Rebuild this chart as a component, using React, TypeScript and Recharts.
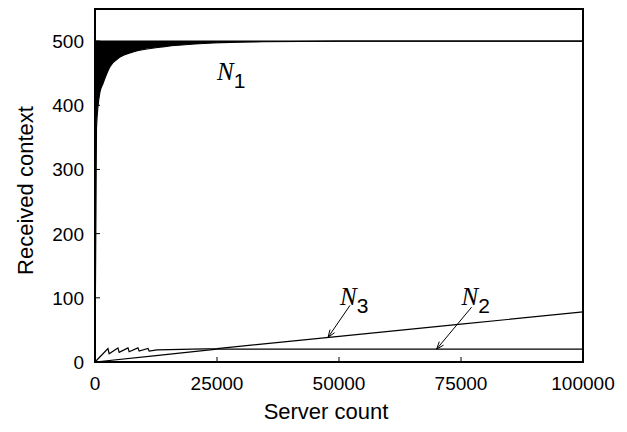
import { Area, ComposedChart, Line, ReferenceArea, ReferenceDot, XAxis, YAxis } from 'recharts';

// Server count ticks and value ticks
const xTicks = [0, 25000, 50000, 75000, 100000];
const yTicks = [0, 100, 200, 300, 400, 500];

// N1: dense oscillation drawn as a filled band between a rising floor and the 500 cap
const n1X = [0, 300, 1000, 1640, 3070, 5120, 7790, 13900, 24200, 34400, 50000, 100000];
const n1Low = [5, 365, 420, 434, 460, 475, 483, 491, 497, 499, 500, 500];
const n1Cap = 500;

// N2: rising, then flat at 20
const n2X = [0, 12500, 25000, 100000];
const n2Y = [0, 10, 20, 20];

// N3: saw-tooth start, then linear growth
const n3X = [0, 2660, 2900, 4700, 4950, 6760, 7000, 8800, 9050, 10860, 11100, 12700, 25000, 50000, 75000, 100000];
const n3Y = [0, 21, 13, 22, 15, 22, 16, 22, 17, 21, 17, 19, 20.8, 40, 59, 78];

const n1Data = n1X.map((x, i) => ({ x, band: [n1Low[i], n1Cap] }));
const n2Data = n2X.map((x, i) => ({ x, v: n2Y[i] }));
const n3Data = n3X.map((x, i) => ({ x, v: n3Y[i] }));

const SANS = '"Liberation Sans", Arial, Helvetica, sans-serif';
const SERIF = '"Liberation Serif", "Times New Roman", serif';

function XTick({ x, y, payload }: any) {
  return (
    <g>
      <line x1={x} y1={y} x2={x} y2={y - 5} stroke="#000" strokeWidth={1} />
      <text x={x} y={y + 28} textAnchor="middle" fontFamily={SANS} fontSize={19} fill="#000">
        {payload.value}
      </text>
    </g>
  );
}

function YTick({ x, y, payload }: any) {
  return (
    <g>
      <line x1={x} y1={y} x2={x + 5} y2={y} stroke="#000" strokeWidth={1} />
      <text x={x - 11} y={y + 7} textAnchor="end" fontFamily={SANS} fontSize={19} fill="#000">
        {payload.value}
      </text>
    </g>
  );
}

function TopTick({ x, y }: any) {
  return <line x1={x} y1={y} x2={x} y2={y + 5} stroke="#000" strokeWidth={1} />;
}

function RightTick({ x, y }: any) {
  return <line x1={x} y1={y} x2={x - 5} y2={y} stroke="#000" strokeWidth={1} />;
}

function Name({ x, y, sub }: { x: number; y: number; sub: string }) {
  return (
    <text x={x} y={y} fill="#000">
      <tspan fontFamily={SERIF} fontStyle="italic" fontSize={25}>N</tspan>
      <tspan fontFamily={SANS} fontSize={21} dy={8}>{sub}</tspan>
    </text>
  );
}

function Pointer({ cx, cy, dx, dy, nx, ny, sub }: any) {
  const len = Math.hypot(dx, dy);
  const ux = dx / len;
  const uy = dy / len;
  const head = 8;
  const spread = 0.35;
  const ax1 = cx + head * (ux * Math.cos(spread) - uy * Math.sin(spread));
  const ay1 = cy + head * (uy * Math.cos(spread) + ux * Math.sin(spread));
  const ax2 = cx + head * (ux * Math.cos(-spread) - uy * Math.sin(-spread));
  const ay2 = cy + head * (uy * Math.cos(-spread) + ux * Math.sin(-spread));
  return (
    <g>
      <line x1={cx} y1={cy} x2={cx + dx} y2={cy + dy} stroke="#000" strokeWidth={1} />
      <polyline points={`${ax1},${ay1} ${cx},${cy} ${ax2},${ay2}`} fill="none" stroke="#000" strokeWidth={1} />
      <Name x={cx + nx} y={cy + ny} sub={sub} />
    </g>
  );
}

export default function App() {
  return (
    <div style={{ position: 'absolute', left: 0, top: 0, background: '#fff' }}>
      <ComposedChart width={627} height={432} margin={{ top: 9, right: 44, bottom: 0, left: 0 }}>
        <XAxis
          xAxisId={0}
          type="number"
          dataKey="x"
          domain={[0, 100000]}
          ticks={xTicks}
          height={70}
          axisLine={false}
          tickLine={false}
          tickSize={0}
          tickMargin={0}
          tick={<XTick />}
          interval={0}
          label={{
            content: ({ viewBox }: any) => (
              <text
                x={viewBox.x + viewBox.width / 2 - 13}
                y={viewBox.y + 57}
                textAnchor="middle"
                fontFamily={SANS}
                fontSize={22}
                fill="#000"
              >
                Server count
              </text>
            ),
          }}
        />
        <XAxis
          xAxisId="top"
          orientation="top"
          type="number"
          dataKey="x"
          domain={[0, 100000]}
          ticks={xTicks}
          height={0}
          axisLine={false}
          tickLine={false}
          tickSize={0}
          tickMargin={0}
          tick={<TopTick />}
          interval={0}
        />
        <YAxis
          yAxisId={0}
          type="number"
          domain={[0, 550]}
          ticks={yTicks}
          width={95}
          axisLine={false}
          tickLine={false}
          tickSize={0}
          tickMargin={0}
          tick={<YTick />}
          interval={0}
          label={{
            content: ({ viewBox }: any) => {
              const lx = viewBox.x + 33;
              const ly = viewBox.y + viewBox.height / 2 + 5;
              return (
                <text
                  x={lx}
                  y={ly}
                  transform={`rotate(-90, ${lx}, ${ly})`}
                  textAnchor="middle"
                  fontFamily={SANS}
                  fontSize={22}
                  fill="#000"
                >
                  Received context
                </text>
              );
            },
          }}
        />
        <YAxis
          yAxisId="right"
          orientation="right"
          type="number"
          domain={[0, 550]}
          ticks={yTicks}
          width={0}
          axisLine={false}
          tickLine={false}
          tickSize={0}
          tickMargin={0}
          tick={<RightTick />}
          interval={0}
        />
        <Area
          data={n1Data}
          dataKey="band"
          type="monotone"
          stroke="#000"
          strokeWidth={1.2}
          fill="#000"
          fillOpacity={1}
          dot={false}
          activeDot={false}
          isAnimationActive={false}
        />
        <Line
          data={n2Data}
          dataKey="v"
          type="linear"
          stroke="#000"
          strokeWidth={1.2}
          dot={false}
          activeDot={false}
          isAnimationActive={false}
        />
        <Line
          data={n3Data}
          dataKey="v"
          type="linear"
          stroke="#000"
          strokeWidth={1.2}
          dot={false}
          activeDot={false}
          isAnimationActive={false}
        />
        <ReferenceArea x1={0} x2={100000} y1={0} y2={550} fill="none" stroke="#000" strokeWidth={2} />
        <ReferenceDot
          x={25000}
          y={440}
          r={0}
          shape={({ cx, cy }: any) => <Name x={cx} y={cy} sub="1" />}
        />
        <ReferenceDot
          x={47750}
          y={38.4}
          r={0}
          shape={({ cx, cy }: any) => <Pointer cx={cx} cy={cy} dx={22} dy={-32} nx={12} ny={-32} sub="3" />}
        />
        <ReferenceDot
          x={70000}
          y={20}
          r={0}
          shape={({ cx, cy }: any) => <Pointer cx={cx} cy={cy} dx={35} dy={-42} nx={25} ny={-44} sub="2" />}
        />
      </ComposedChart>
    </div>
  );
}
